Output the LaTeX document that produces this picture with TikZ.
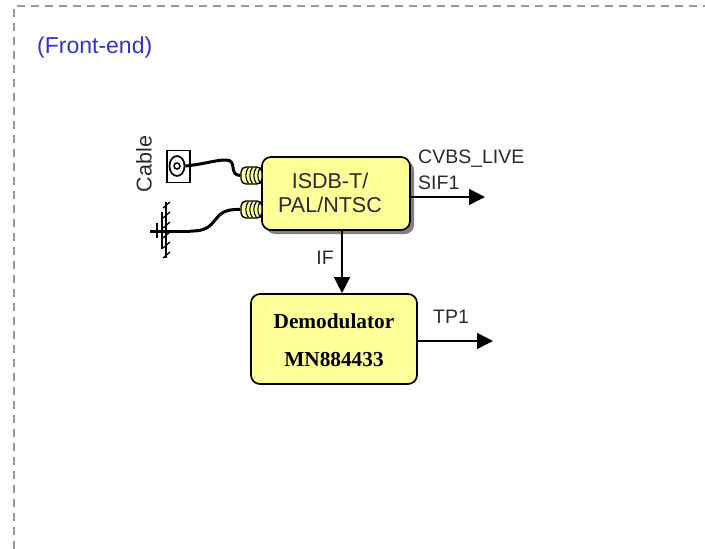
\documentclass[tikz,border=0pt]{standalone}
\usepackage{fontspec}
\setmainfont{Liberation Sans}
\newfontfamily\boldserif{Liberation Serif}[Scale=1.0]
\usetikzlibrary{arrows.meta,positioning,calc,shadows,shapes.geometric}
\definecolor{boxfill}{HTML}{FFFF99}
\definecolor{title}{HTML}{3333CC}
\definecolor{frame}{HTML}{999999}
\definecolor{lbl}{HTML}{2A2A2A}

\begin{document}
\begin{tikzpicture}[x=1pt, y=-1pt, >={Triangle[length=16pt,width=16pt]},
  block/.style={draw, line width=1.7pt, rounded corners=9pt, fill=boxfill,
    align=center, inner sep=0pt},
  tag/.style={font=\fontsize{19.5}{20}\selectfont, text=lbl, inner sep=0pt},
  bigtag/.style={font=\fontsize{21.5}{22}\selectfont, text=lbl, inner sep=0pt},
  chip/.style={font=\fontsize{21.3}{22}\boldserif\bfseries, text=black, inner sep=0pt},
  jack/.style={draw, line width=1.4pt, rounded corners=5pt, fill=boxfill,
    minimum width=21pt, minimum height=17pt, inner sep=0pt},
  wire/.style={line width=3pt},
  sig/.style={->, line width=1.5pt}]
\useasboundingbox (0,0) rectangle (705,549);
% outer dashed frame
\draw[frame, line width=1.4pt, dash pattern=on 8pt off 6pt] (14,549) -- (14,6) -- (705,6);
\node[font=\fontsize{23}{23}\selectfont, text=title, anchor=west, inner sep=0pt] (ttl) at (37,47.5) {(Front-end)};
% blocks
\node[block, minimum width=148pt, minimum height=73pt,
  drop shadow={shadow xshift=4pt, shadow yshift=-4pt, opacity=1, fill=black!50}] (tuner) at (336,193.5) {};
\node[bigtag] (tunerA) at (330,181) {ISDB-T/};
\node[bigtag] (tunerB) at (330,205) {PAL/NTSC};
\node[block, minimum width=166pt, minimum height=90pt] (demod) at (334,339) {};
\node[chip] (demodA) at (334,321) {Demodulator};
\node[chip] (demodB) at (334,360) {MN884433};
% inputs
\node[draw, line width=1.7pt, fill=white, minimum width=23pt, minimum height=32pt, inner sep=0pt] (socket) at (178.5,166.5) {};
\node[draw, line width=1.7pt, ellipse, minimum width=15pt, minimum height=20pt, inner sep=0pt] (socketO) at (177,166) {};
\node[draw, line width=1.5pt, circle, minimum size=6pt, inner sep=0pt] (socketI) at (177,166) {};
\node[jack] (jackA) at (251.5,175.5) {};
\node[jack] (jackB) at (251.5,209.5) {};
\foreach \j in {jackA,jackB}
  \foreach \d in {-3,1,5,9}
    \draw[line width=1.1pt] ($(\j.center)+(\d pt,-8pt)$) to[bend left=35] ($(\j.center)+(\d pt,8pt)$);
\node[bigtag, rotate=90] (cable) at (144,164) {Cable};
% antenna
\coordinate (ant) at (150,231);
\coordinate (antEnd) at (190,231);
\draw[line width=3pt] (ant) -- (antEnd);
\draw[line width=1.6pt] (157,223) -- (157,238);
\draw[line width=1.6pt] (162,212) -- (162,249);
\draw[line width=1.6pt] (166,202) -- (166,258);
\foreach \y in {206,216,226,236,246,256}
  \draw[line width=1.3pt] (163,\y+2) -- (170,\y-4);
% cables
\draw[wire] (socketO.east) .. controls (205,164) and (215,160) .. (226,160)
  .. controls (238,160) and (228,175) .. (jackA.west);
\draw[wire] (antEnd) .. controls (222,232) and (208,208) .. (jackB.west);
% outputs
\coordinate (tunerOut) at (410,197);
\coordinate (tunerEnd) at (485,197);
\coordinate (demodOut) at (417,341);
\coordinate (demodEnd) at (493,341);
\draw[sig] (tunerOut) -- (tunerEnd);
\draw[sig] (demodOut) -- (demodEnd);
\draw[sig] (tuner.south -| 342,230) -- (demod.north -| 342,294);
\node[tag, anchor=west] (cvbs) at (418,158.5) {CVBS\_LIVE};
\node[tag, anchor=west] (sif) at (418,183) {SIF1};
\node[tag] (ifl) at (325,258) {IF};
\node[tag] (tp) at (451,317) {TP1};
\end{tikzpicture}
\end{document}
